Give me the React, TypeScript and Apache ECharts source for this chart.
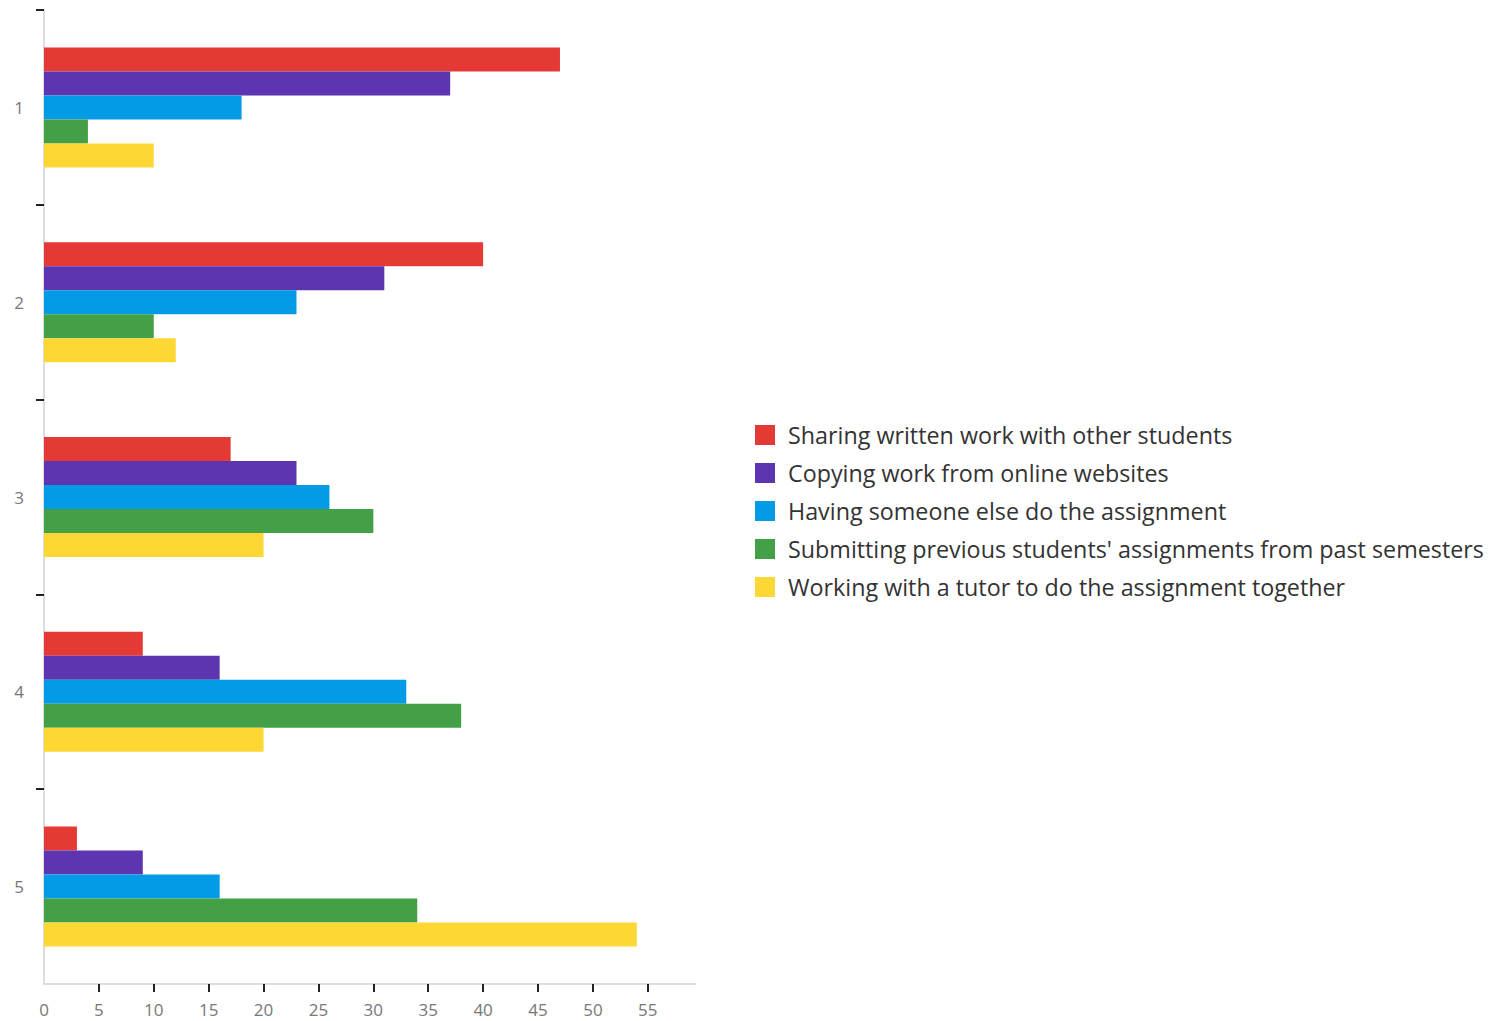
import React, { useEffect, useRef } from "react";
import * as echarts from "echarts";

const categories = ["1", "2", "3", "4", "5"];
const seriesNames = [
  "Sharing written work with other students",
  "Copying work from online websites",
  "Having someone else do the assignment",
  "Submitting previous students' assignments from past semesters",
  "Working with a tutor to do the assignment together",
];
const sharing = [47, 40, 17, 9, 3];
const copying = [37, 31, 23, 16, 9];
const someoneElse = [18, 23, 26, 33, 16];
const previous = [4, 10, 30, 38, 34];
const tutor = [10, 12, 20, 20, 54];
const colors = ["#E53935", "#5E35B1", "#039BE5", "#43A047", "#FDD835"];
const xTickValues = [5, 10, 15, 20, 25, 30, 35, 40, 45, 50, 55];
const xLabelValues = [0, 5, 10, 15, 20, 25, 30, 35, 40, 45, 50, 55];
const yBoundaryTicks = [0, 1, 2, 3, 4];

export default function App() {
  const ref = useRef<HTMLDivElement>(null);
  useEffect(() => {
    if (!ref.current) return;
    const chart = echarts.init(ref.current, null, { renderer: "svg" });
    const data = [sharing, copying, someoneElse, previous, tutor];
    chart.setOption({
      animation: false,
      textStyle: { fontFamily: "Open Sans" },
      grid: { left: 44, right: 811, top: 10, bottom: 37, containLabel: false },
      legend: {
        orient: "vertical",
        left: 750,
        top: 418,
        itemWidth: 20,
        itemHeight: 20,
        itemGap: 14,
        icon: "rect",
        textStyle: { fontSize: 23.3, lineHeight: 24, color: "#333", fontFamily: "Open Sans", padding: [0, 0, 0, 8] },
        data: seriesNames,
      },
      xAxis: {
        type: "value",
        position: "bottom",
        min: 0,
        max: 59.3,
        interval: 5,
        splitLine: { show: false },
        axisLine: { show: true, onZero: false, lineStyle: { color: "#ddd", width: 2 } },
        axisTick: { show: true, customValues: xTickValues, length: 8, lineStyle: { color: "#222", width: 2 } },
        axisLabel: { customValues: xLabelValues, color: "#777", fontSize: 17, margin: 17 },
      },
      yAxis: [
        {
          type: "category",
          inverse: true,
          data: categories,
          axisLine: { show: true, onZero: false, lineStyle: { color: "#ddd", width: 2 } },
          axisTick: { show: false },
          axisLabel: { color: "#777", fontSize: 17, margin: 20 },
        },
        {
          type: "value",
          position: "left",
          inverse: true,
          min: 0,
          max: 5,
          interval: 1,
          axisLine: { show: false, onZero: false },
          splitLine: { show: false },
          axisLabel: { show: false },
          axisTick: { show: true, customValues: yBoundaryTicks, length: 8, lineStyle: { color: "#222", width: 2 } },
        },
      ],
      series: seriesNames.map((name, i) => ({
        name,
        type: "bar",
        yAxisIndex: 0,
        data: data[i],
        barWidth: 24,
        barGap: "0%",
        itemStyle: { color: colors[i] },
      })),
    });
    return () => chart.dispose();
  }, []);
  return <div ref={ref} style={{ width: 1506, height: 1021, position: "absolute", left: 0, top: 0 }} />;
}
